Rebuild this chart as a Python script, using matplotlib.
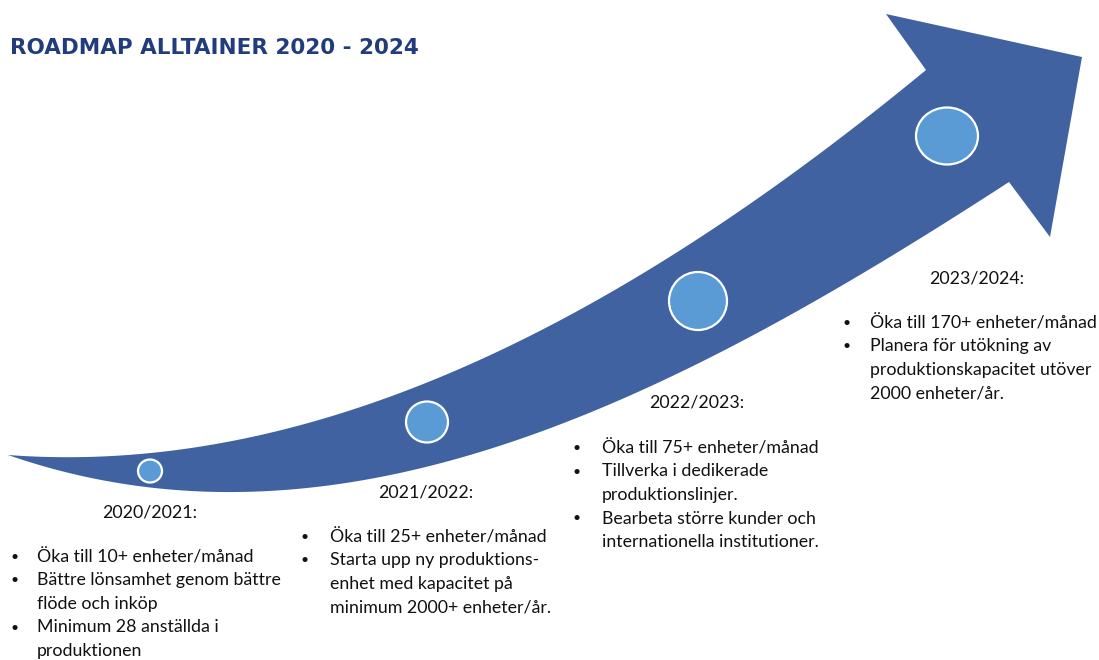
import numpy as np
import matplotlib.pyplot as plt
from matplotlib.path import Path
from matplotlib.patches import PathPatch, Ellipse

title = "ROADMAP ALLTAINER 2020 - 2024"
years = ["2020/2021:", "2021/2022:", "2022/2023:", "2023/2024:"]
# each bullet is a list of wrapped lines
bullets = [
    [["Öka till 10+ enheter/månad"],
     ["Bättre lönsamhet genom bättre", "flöde och inköp"],
     ["Minimum 28 anställda i", "produktionen"]],
    [["Öka till 25+ enheter/månad"],
     ["Starta upp ny produktions-", "enhet med kapacitet på", "minimum 2000+ enheter/år."]],
    [["Öka till 75+ enheter/månad"],
     ["Tillverka i dedikerade", "produktionslinjer."],
     ["Bearbeta större kunder och", "internationella institutioner."]],
    [["Öka till 170+ enheter/månad"],
     ["Planera för utökning av", "produktionskapacitet utöver", "2000 enheter/år."]],
]

# layout (pixel coords, y down)
year_pos = [(150, 512), (426, 492), (697, 402), (977, 278)]
block_pos = [(10, 37, 557), (300, 330, 537), (572, 602, 448), (842, 870, 323)]
line_h = 23.5
circles = [(150, 471, 24, 23), (427, 422, 42, 41), (698, 301, 58, 58), (947, 136, 62, 57)]

# arrow outline (shape, not data)
upper = [(8, 455), (150, 451), (250, 437), (320, 419), (400, 396), (500, 352),
         (580, 307), (697, 240), (823, 150), (926, 70)]
head = [(886, 14), (1082, 57), (1050, 237)]
lower = [(1009, 182), (920, 243), (813, 300), (663, 380), (560, 423), (480, 452),
         (400, 474), (320, 488), (200, 492), (150, 489), (100, 478), (67, 468), (8, 455)]

arrow_col = "#4062a1"
circle_col = "#5b9bd5"
title_col = "#213c7c"


def edge(pts, deg):
    # smooth the traced edge with a low order fit, keep the end points
    p = np.array(pts, float)
    w = np.ones(len(p))
    w[0] = w[-1] = 20
    c = np.polyfit(p[:, 0], p[:, 1], deg, w=w)
    xs = np.linspace(p[0, 0], p[-1, 0], 200)
    return list(zip(xs, np.polyval(c, xs)))


fig = plt.figure(figsize=(10.99, 6.6), dpi=100)
ax = fig.add_axes([0, 0, 1, 1])
ax.set_xlim(0, 1099)
ax.set_ylim(660, 0)
ax.axis("off")

verts = edge(upper, 3) + head + edge(lower, 4)
ax.add_patch(PathPatch(Path(verts), facecolor=arrow_col, edgecolor="none"))

for cx, cy, w, h in circles:
    ax.add_patch(Ellipse((cx, cy), w, h, facecolor=circle_col, edgecolor="white", linewidth=1.6))

ax.text(10, 48, title, fontsize=15.5, fontweight="bold", color=title_col,
        family="DejaVu Sans", va="center", ha="left")

body = dict(fontsize=12.8, family="Lato", color="#111111", va="center")
for yr, (yx, yy) in zip(years, year_pos):
    ax.text(yx, yy, yr, ha="center", **body)

for items, (bx, tx, y0) in zip(bullets, block_pos):
    y = y0
    for item in items:
        ax.text(bx, y, "•", ha="left", fontsize=10, family="Lato", color="#111111", va="center")
        for line in item:
            ax.text(tx, y, line, ha="left", **body)
            y += line_h

fig.savefig("out.png", dpi=100)
